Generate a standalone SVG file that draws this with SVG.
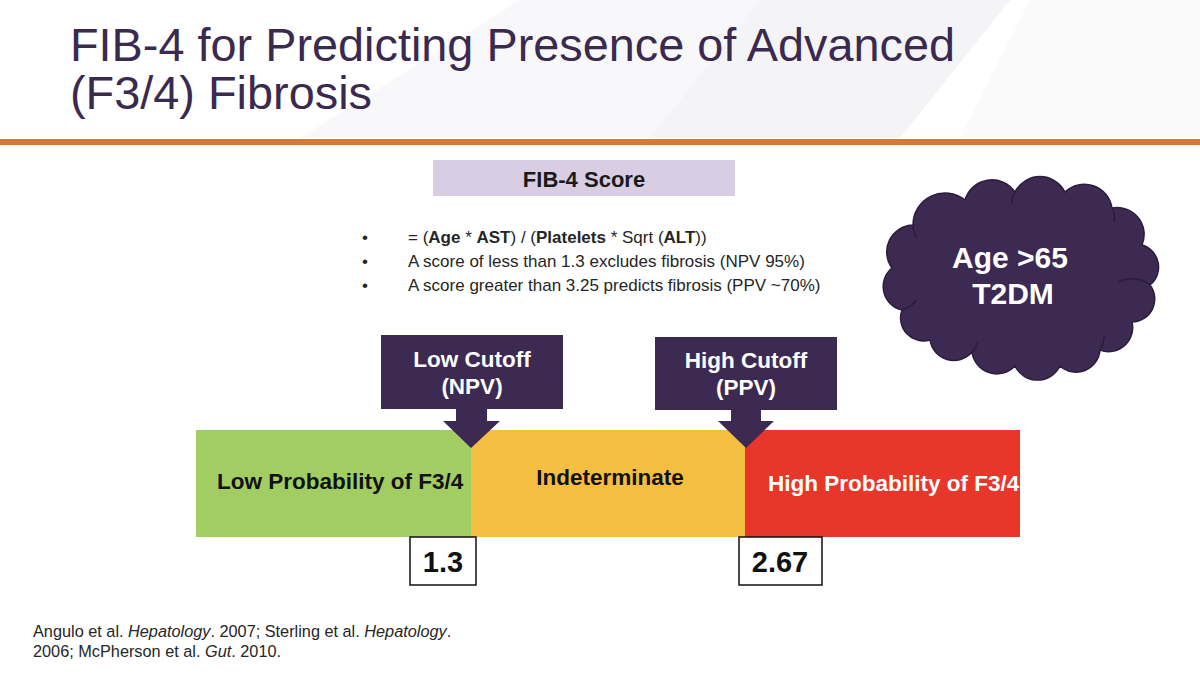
<svg xmlns="http://www.w3.org/2000/svg" width="1200" height="675" viewBox="0 0 1200 675">
<style>
.t{font-family:"Liberation Sans",Arial,sans-serif}
.title{font-size:46px;fill:#3B2A50}
.b{font-weight:bold}
.bul{font-size:17px;fill:#262626}
.purple{fill:#3C2A52}
.wt{fill:#ffffff;font-size:22.5px;font-weight:bold}
.bar{font-size:22.5px;font-weight:bold}
.num{fill:#fff;stroke:#111;stroke-width:1.5}
.numt{font-size:29px;font-weight:bold;fill:#111}
.cite{font-size:16.3px;fill:#262626}
</style>
<rect width="1200" height="675" fill="#ffffff"/>
<g id="background">
<polygon points="520,0 1010,0 900,138 300,138" fill="#F8F8FA"/>
<polygon points="760,0 1010,0 900,138 650,138" fill="#F4F4F7"/>
<polygon points="1030,0 1200,0 1200,138 960,138" fill="#FAFAFB"/>
</g>
<g id="title">
<text class="t title" x="70" y="61" textLength="885" lengthAdjust="spacingAndGlyphs">FIB-4 for Predicting Presence of Advanced</text>
<text class="t title" x="70" y="109" textLength="302" lengthAdjust="spacingAndGlyphs">(F3/4) Fibrosis</text>
</g>
<rect id="divider" x="0" y="139" width="1200" height="6" fill="#E07338"/>
<g id="fib4-header">
<rect x="433" y="160" width="302" height="36" fill="#D9CDE4"/>
<text class="t b" x="584" y="187" font-size="22" fill="#1a1a1a" text-anchor="middle">FIB-4 Score</text>
</g>
<g id="bullets" class="t bul">
<text x="362" y="243">•</text>
<text x="362" y="267">•</text>
<text x="362" y="291">•</text>
<text x="408" y="243">= (<tspan class="b">Age</tspan> * <tspan class="b">AST</tspan>) / (<tspan class="b">Platelets</tspan> * Sqrt (<tspan class="b">ALT</tspan>))</text>
<text x="408" y="267">A score of less than 1.3 excludes fibrosis (NPV 95%)</text>
<text x="408" y="291">A score greater than 3.25 predicts fibrosis (PPV ~70%)</text>
</g>
<g id="cloud">
<path d="M892,268 A27,27 0 0 1 913,225 A32,32 0 0 1 965,200 A28,28 0 0 1 1015,192 A28,28 0 0 1 1065,192 A28,28 0 0 1 1112,208 A27,27 0 0 1 1142,245 A23,23 0 0 1 1150,285 A23,23 0 0 1 1132,322 A24,24 0 0 1 1100,350 A24,24 0 0 1 1060,366 A25,25 0 0 1 1015,366 A25,25 0 0 1 972,352 A24,24 0 0 1 930,340 A23,23 0 0 1 902,310 A24,24 0 0 1 892,268 Z" fill="#3C2A52" stroke="#2A1D3C" stroke-width="1.5"/>
<path d="M913,225 A22,22 0 0 0 917,238 M1015,192 A20,20 0 0 0 1012,204 M1112,208 A20,20 0 0 1 1114,222 M1150,285 A30,30 0 0 0 1118,282 M1100,350 A24,24 0 0 0 1104,336 M972,352 A20,20 0 0 0 978,341 M902,310 A22,22 0 0 0 916,300" fill="none" stroke="#2A1D3C" stroke-width="1.5"/>
<text class="t" x="1010" y="268" font-size="30" font-weight="bold" fill="#fff" text-anchor="middle">Age &gt;65</text>
<text class="t" x="1013" y="304" font-size="30" font-weight="bold" fill="#fff" text-anchor="middle">T2DM</text>
</g>
<g id="bar-low">
<rect x="196" y="430" width="275" height="107" fill="#A2CD62"/>
<text class="t bar" x="217" y="489" fill="#111">Low Probability of F3/4</text>
</g>
<g id="bar-indeterminate">
<rect x="471" y="430" width="274" height="107" fill="#F4BF41"/>
<text class="t bar" x="610" y="485" fill="#111" text-anchor="middle">Indeterminate</text>
</g>
<g id="bar-high">
<rect x="745" y="430" width="275" height="107" fill="#E8362A"/>
<text class="t bar" x="768" y="491" fill="#fff">High Probability of F3/4</text>
</g>
<g id="low-cutoff">
<rect class="purple" x="381" y="335" width="182" height="74"/>
<text class="t wt" x="472" y="367" text-anchor="middle">Low Cutoff</text>
<text class="t wt" x="472" y="394" text-anchor="middle">(NPV)</text>
</g>
<g id="high-cutoff">
<rect class="purple" x="655" y="337" width="182" height="73"/>
<text class="t wt" x="746" y="368" text-anchor="middle">High Cutoff</text>
<text class="t wt" x="746" y="395" text-anchor="middle">(PPV)</text>
</g>
<g id="connectors">
<polygon class="purple" points="456,408 487,408 487,421 500,421 471,448 443,421 456,421"/>
<polygon class="purple" points="731,409 761,409 761,421 774,421 746,448 718,421 731,421"/>
</g>
<g id="value-low">
<rect class="num" x="410" y="537" width="66" height="48"/>
<text class="t numt" x="443" y="572" text-anchor="middle">1.3</text>
</g>
<g id="value-high">
<rect class="num" x="739" y="537" width="83" height="48"/>
<text class="t numt" x="780" y="572" text-anchor="middle">2.67</text>
</g>
<g id="citation" class="t cite">
<text x="33" y="637">Angulo et al. <tspan font-style="italic">Hepatology</tspan>. 2007; Sterling et al. <tspan font-style="italic">Hepatology</tspan>.</text>
<text x="33" y="657">2006; McPherson et al. <tspan font-style="italic">Gut</tspan>. 2010.</text>
</g>
</svg>
